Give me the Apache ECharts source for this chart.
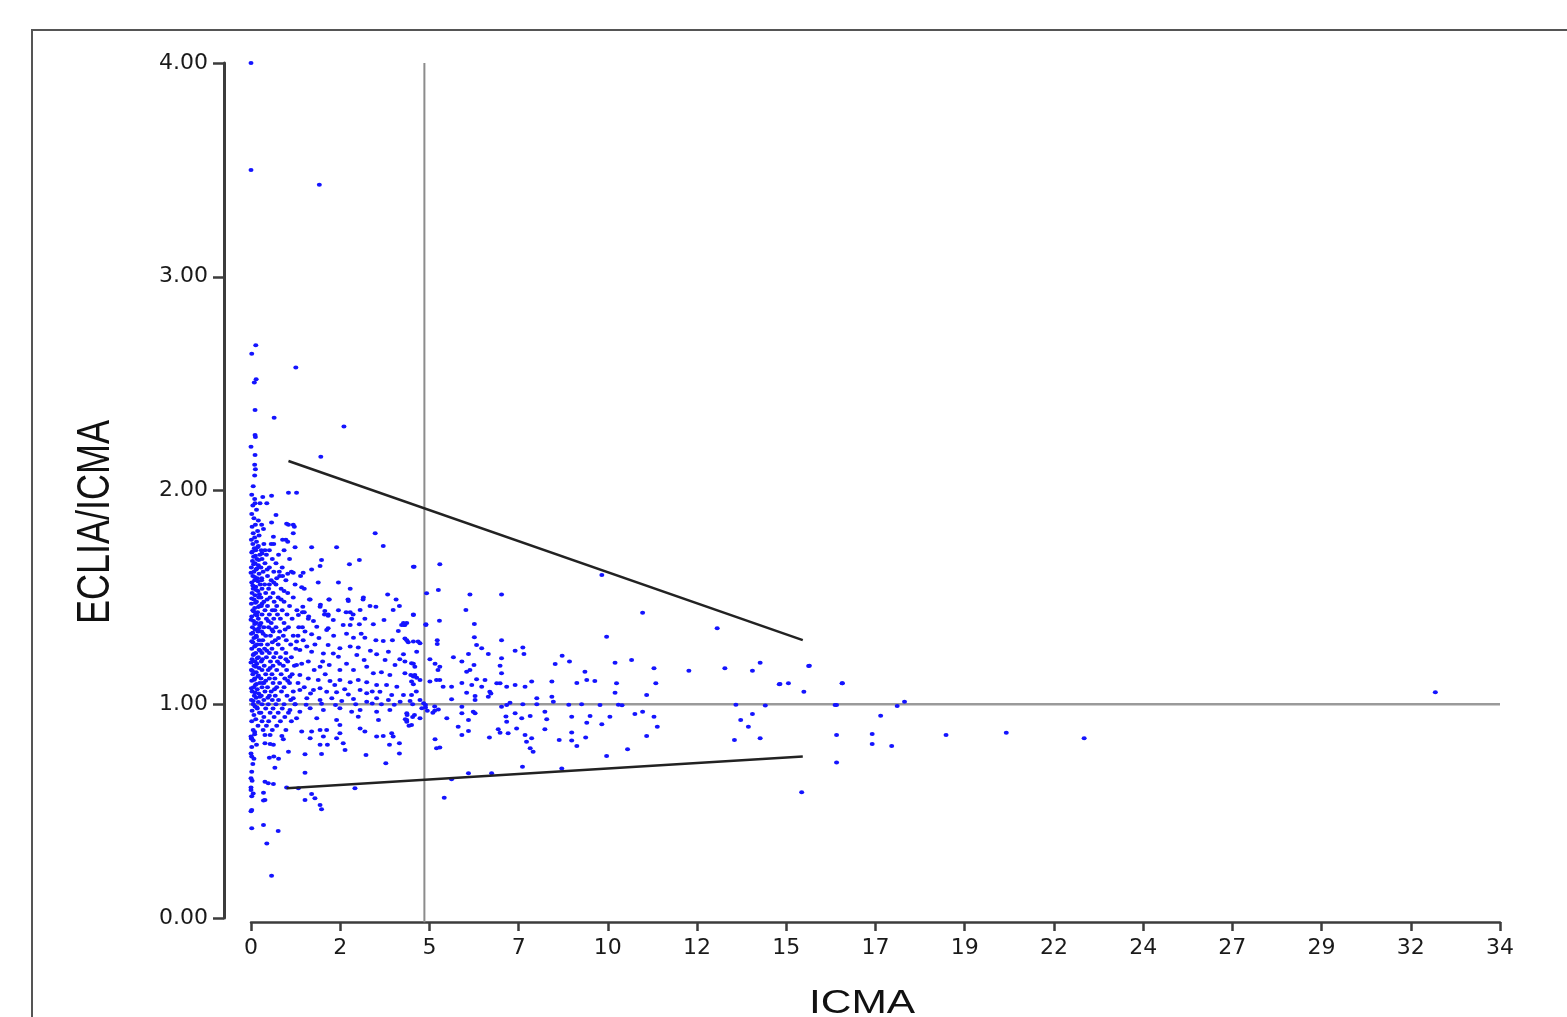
<!DOCTYPE html>
<html>
<head>
<meta charset="utf-8">
<script src="https://cdn.jsdelivr.net/npm/echarts@6/dist/echarts.min.js"></script>
<style>
html,body{margin:0;padding:0;background:#ffffff;}
#chart{width:1567px;height:1017px;}
</style>
</head>
<body>
<div id="chart"></div>
<script>
// ---------- axis ticks ----------
const xTickLabels = ['0','2','5','7','10','12','15','17','19','22','24','27','29','32','34'];
const yTickLabels = ['0.00','1.00','2.00','3.00','4.00'];
const xMin = 0, xMax = 34, xTickSteps = 14;
const yMin = 0, yMax = 4, yStep = 1;

// ---------- reference lines ----------
const meanLine = [[4.72, -0.02], [4.72, 4.0]];
const unityLine = [[-0.73, 1.0], [34, 1.0]];
const upperLimit = [[1.02, 2.138], [15.02, 1.30]];
const lowerLimit = [[0.97, 0.607], [15.02, 0.755]];

// ---------- scatter points [ICMA, ECLIA/ICMA] ----------
const upperPoints = [
[0,4.00],[0,3.50],[1.86,3.43],[0.13,2.68],[0.02,2.64],[1.22,2.575],[0.14,2.52],[0.09,2.505],[0.11,2.377],[0.63,2.34],
[2.53,2.30],[0.11,2.26],[0.12,2.25],[0.0,2.205],[0.11,2.166],[1.90,2.158],[0.10,2.12],[0.12,2.10],[0.10,2.07],[0.06,2.02],
[1.02,1.99],[1.24,1.99],[0.32,1.97],[0.56,1.976],[0.11,1.94],[0.245,1.94],[0.43,1.94],[0.68,1.885],[0.56,1.85],[0.29,1.84],
[0.34,1.82],[1.02,1.84],[1.15,1.84],[0.97,1.845],[1.18,1.83],[1.15,1.80],[3.38,1.80],[0.61,1.784],[0.95,1.77],[1.0,1.76],
[0.86,1.77],[0.55,1.75],[0.38,1.72],[1.2,1.734],[1.65,1.734],[2.33,1.734],[3.6,1.74],[1.92,1.675],[1.88,1.647],[2.95,1.675],
[2.68,1.655],[4.42,1.643],[1.15,1.615],[1.42,1.615],[1.65,1.63],[0.78,1.60],[0.86,1.60],[1.83,1.57],[2.38,1.57],[1.45,1.54],
[2.70,1.54],[1.38,1.547],[0.9,1.53],[3.06,1.50],[3.72,1.514],[2.13,1.49],[2.65,1.483],[3.24,1.46],[4.04,1.46],[1.89,1.465],
[1.59,1.49],[1.4,1.43],[1.45,1.43],[2.70,1.43],[2.78,1.42],[4.42,1.417],[4.15,1.38],[4.24,1.38],[2.0,1.42],[2.1,1.42],
[1.57,1.41],[1.0,1.61],[1.35,1.60]
];

const leftColumnPoints = [
[0.02,1.98],[0.10,1.96],[0.05,1.93],[0.15,1.91],[0.02,1.89],[0.08,1.87],[0.20,1.86],[0.12,1.84],[0.03,1.83],[0.18,1.81],
[0.06,1.80],[0.22,1.79],[0.10,1.78],[0.01,1.77],[0.15,1.76],[0.05,1.75],[0.20,1.74],[0.09,1.73],[0.13,1.72],[0.02,1.71],
[0.24,1.70],[0.07,1.69],[0.16,1.68],[0.04,1.67],[0.11,1.66],[0.20,1.65],[0.01,1.64],[0.14,1.63],[0.08,1.62],[0.22,1.61],
[0.05,1.60],[0.17,1.59],[0.10,1.58],[0.02,1.57],[0.25,1.56],[0.13,1.55],[0.06,1.54],[0.19,1.53],[0.03,1.52],[0.11,1.51],
[0.21,1.50],[0.08,1.49],[0.15,1.48],[0.01,1.47],[0.23,1.46],[0.10,1.45],[0.05,1.44],[0.18,1.43],[0.12,1.42],[0.02,1.41],
[0.20,1.40],[0.07,1.39],[0.15,1.38],[0.24,1.37],[0.04,1.36],[0.11,1.35],[0.19,1.34],[0.01,1.33],[0.14,1.32],[0.08,1.31],
[0.22,1.30],[0.05,1.29],[0.17,1.28],[0.10,1.27],[0.02,1.26],[0.25,1.25],[0.13,1.24],[0.06,1.23],[0.20,1.22],[0.03,1.21],
[0.11,1.20],[0.16,1.19],[0.08,1.18],[0.22,1.17],[0.01,1.16],[0.14,1.15],[0.05,1.14],[0.19,1.13],[0.10,1.12],[0.02,1.11],
[0.24,1.10],[0.12,1.09],[0.07,1.08],[0.17,1.07],[0.03,1.06],[0.21,1.05],[0.09,1.04],[0.14,1.03],[0.01,1.02],[0.20,1.01],
[0.06,1.00],[0.11,0.99],[0.17,0.98],[0.03,0.97],[0.23,0.96],[0.08,0.95],[0.13,0.93],[0.02,0.92],[0.19,0.90],[0.06,0.88],
[0.10,0.86],[0.01,0.84],
[0.18,1.735],[0.04,1.715],[0.12,1.695],[0.21,1.675],[0.07,1.655],[0.16,1.635],[0.00,1.615],[0.10,1.595],[0.19,1.575],[0.05,1.555],
[0.14,1.535],[0.23,1.515],[0.02,1.495],[0.12,1.475],[0.20,1.455],[0.07,1.435],[0.16,1.415],[0.00,1.395],[0.10,1.375],[0.21,1.355],
[0.05,1.335],[0.15,1.315],[0.02,1.295],[0.12,1.275],[0.22,1.255],[0.08,1.235],[0.17,1.215],[0.00,1.195],[0.13,1.175],[0.04,1.155],
[0.20,1.135],[0.09,1.115],[0.15,1.095],[0.01,1.075],[0.11,1.055],[0.24,1.035],[0.06,1.015],[0.16,0.985],
[0.30,1.47],[0.33,1.33],[0.31,1.21],[0.29,1.59],[0.32,1.10],[0.30,1.705]
];

const innerClusterPoints = [
[0.35,1.75],[0.62,1.75],[0.28,1.72],[0.50,1.72],[0.90,1.72],[0.42,1.70],[0.75,1.70],[0.30,1.68],[0.58,1.68],[1.05,1.68],
[0.38,1.66],[0.68,1.66],[0.27,1.64],[0.50,1.64],[0.85,1.64],[0.33,1.62],[0.62,1.62],[1.10,1.62],[0.45,1.60],[0.70,1.59],
[0.29,1.58],[0.55,1.58],[0.95,1.58],[0.37,1.56],[0.68,1.56],[1.20,1.56],[0.30,1.54],[0.48,1.54],[0.82,1.54],[0.40,1.52],
[0.60,1.52],[1.00,1.52],[0.27,1.50],[0.52,1.50],[0.74,1.50],[1.15,1.50],[0.35,1.48],[0.63,1.48],[0.90,1.48],[0.28,1.46],
[0.45,1.46],[0.70,1.46],[1.05,1.46],[0.38,1.44],[0.58,1.44],[0.85,1.44],[1.25,1.44],[0.30,1.42],[0.50,1.42],[0.72,1.42],
[0.98,1.42],[0.42,1.40],[0.62,1.40],[0.80,1.40],[1.12,1.40],[0.27,1.38],[0.55,1.38],[0.90,1.38],[0.35,1.36],[0.48,1.36],
[0.68,1.36],[1.02,1.36],[1.30,1.36],[0.29,1.34],[0.60,1.34],[0.78,1.34],[0.40,1.32],[0.53,1.32],[0.88,1.32],[1.15,1.32],
[0.32,1.30],[0.66,1.30],[0.96,1.30],[0.27,1.28],[0.45,1.28],[0.74,1.28],[1.08,1.28],[0.37,1.26],[0.57,1.26],[0.85,1.26],
[1.22,1.26],[0.30,1.24],[0.50,1.24],[0.68,1.24],[0.95,1.24],[0.42,1.22],[0.62,1.22],[0.80,1.22],[1.10,1.22],[0.28,1.20],
[0.53,1.20],[0.72,1.20],[1.00,1.20],[0.36,1.18],[0.60,1.18],[0.88,1.18],[1.18,1.18],[0.30,1.16],[0.47,1.16],[0.70,1.16],
[0.97,1.16],[0.40,1.14],[0.57,1.14],[0.82,1.14],[1.12,1.14],[0.27,1.12],[0.50,1.12],[0.65,1.12],[0.92,1.12],[0.35,1.10],
[0.60,1.10],[0.78,1.10],[1.05,1.10],[1.28,1.10],[0.30,1.08],[0.45,1.08],[0.70,1.08],[0.90,1.08],[0.38,1.06],[0.55,1.06],
[0.83,1.06],[1.15,1.06],[0.28,1.04],[0.50,1.04],[0.66,1.04],[0.98,1.04],[0.35,1.02],[0.58,1.02],[0.75,1.02],[1.08,1.02],
[0.30,1.00],[0.47,1.00],[0.68,1.00],[0.90,1.00],[1.20,1.00],[0.40,0.98],[0.60,0.98],[0.85,0.98],[0.27,0.96],[0.52,0.96],
[0.74,0.96],[1.02,0.96],[0.35,0.94],[0.63,0.94],[0.92,0.94],[0.30,0.92],[0.48,0.92],[0.80,0.92],[1.10,0.92],[0.42,0.90],
[0.70,0.90],[0.33,0.88],[0.58,0.88],[0.95,0.88],
[0.44,1.49],[0.57,1.35],[0.43,1.25],[0.58,1.29],[0.47,1.39],[0.65,1.44],[0.52,1.17],[0.40,1.11],[0.64,1.07],[0.46,1.03],
[0.78,1.19],[0.75,1.31],[0.82,1.49],[0.50,1.56],[0.44,1.63],[0.77,1.62],[0.62,1.57],[0.93,1.35],[0.95,1.21],[1.00,1.11]
];

const midClusterPoints = [
[1.61,1.49],[2.12,1.49],[2.64,1.49],[3.05,1.49],[3.95,1.49],
[1.41,1.456],[1.88,1.456],[2.01,1.436],[2.59,1.43],[2.97,1.441],[3.40,1.456],[3.87,1.441],[4.42,1.42],
[1.29,1.417],[1.56,1.40],[2.10,1.414],[2.24,1.394],[2.74,1.40],[3.10,1.40],[3.62,1.394],[4.10,1.371],[4.19,1.371],[4.76,1.374],
[1.79,1.363],[2.10,1.355],[2.51,1.371],[2.70,1.371],[2.95,1.374],[3.33,1.374],[4.01,1.343],
[1.47,1.34],[1.65,1.327],[2.06,1.347],[2.79,1.311],[3.10,1.311],[3.40,1.30],[3.60,1.296],[4.19,1.308],[4.28,1.29],[4.60,1.285],
[1.24,1.293],[1.42,1.30],[1.74,1.28],[2.10,1.277],[2.42,1.262],[2.70,1.27],[2.92,1.265],[3.42,1.234],[3.74,1.246],[4.15,1.234],[4.51,1.246],
[1.33,1.254],[1.65,1.246],[1.97,1.238],[2.24,1.238],[2.38,1.222],[2.88,1.23],[3.08,1.207],[3.65,1.207],[3.92,1.184],[4.37,1.192],[4.46,1.176],
[1.24,1.184],[1.56,1.20],[1.88,1.176],[2.13,1.184],[2.42,1.16],[2.79,1.16],[3.15,1.176],[3.33,1.145],[3.78,1.137],[4.19,1.145],[4.35,1.137],[4.51,1.124],
[1.06,1.129],[1.33,1.137],[1.56,1.121],[1.83,1.113],[2.15,1.109],[2.42,1.113],[2.70,1.103],[2.92,1.113],[3.15,1.103],[3.42,1.09],[3.69,1.09],[3.97,1.082],[4.42,1.093],
[1.33,1.067],[1.70,1.067],[1.88,1.075],[2.06,1.059],[2.33,1.056],[2.65,1.046],[2.97,1.067],[3.15,1.051],[3.51,1.059],[3.83,1.043],[4.15,1.043],[4.37,1.043],
[1.15,1.028],[1.52,1.028],[1.88,1.02],[2.20,1.028],[2.47,1.015],[2.79,1.025],[3.15,1.012],[3.42,1.028],[3.74,1.02],[4.06,1.012],[4.33,1.015],[4.60,1.02],
[1.2,1.0],[1.5,0.998],[1.92,1.002],[2.3,0.997],[2.85,1.0],[3.3,1.003],[3.9,0.998],[4.4,1.0],[4.75,0.996],
[1.06,0.973],[1.33,0.965],[1.61,0.981],[1.97,0.973],[2.42,0.981],[2.74,0.965],[2.97,0.973],[3.42,0.965],[3.78,0.973],[4.24,0.958],[4.65,0.981],
[1.24,0.934],[1.79,0.934],[2.33,0.926],[2.92,0.942],[3.47,0.926],[4.24,0.926],[4.60,0.934],
[1.38,1.19],[1.72,1.16],[2.02,1.14],[2.28,1.09],[1.45,1.08],[1.62,1.05],[2.55,1.07],[1.28,1.32],[1.52,1.27],[1.85,1.31],
[2.25,1.32],[1.95,1.2],[2.6,1.19],[1.4,1.36],[1.7,1.39],[2.38,1.44],[3.0,1.33],[3.25,1.25],[3.55,1.15],[3.3,1.06],
[2.6,1.33],[3.85,1.3],[4.05,1.21],[3.55,1.0],[4.5,1.06]
];

const lowTailPoints = [
[0.02,0.84],[0.06,0.83],[0.02,0.80],[0.0,0.77],[0.02,0.755],[0.02,0.684],[0.0,0.654],[0.03,0.642],[0.0,0.599],[0.06,0.583],
[0.02,0.505],[0.02,0.42],[0.38,0.856],[0.52,0.856],[0.38,0.817],[0.52,0.814],[0.61,0.81],[0.84,0.851],[0.88,0.836],[1.02,0.778],
[1.47,0.766],[1.92,0.767],[1.38,0.872],[1.65,0.872],[1.61,0.841],[1.88,0.88],[2.06,0.88],[1.97,0.849],[1.88,0.81],[2.08,0.81],
[2.33,0.841],[2.51,0.817],[2.56,0.786],[2.42,0.903],[2.42,0.864],[2.97,0.887],[3.10,0.872],[3.42,0.849],[3.60,0.851],[3.83,0.864],
[3.87,0.849],[3.13,0.763],[3.77,0.81],[4.04,0.817],[4.04,0.77],[3.67,0.724],[4.24,0.918],[4.37,0.903],[0.65,0.703],[1.47,0.68],
[0.38,0.638],[0.47,0.63],[0.61,0.627],[0.34,0.586],[0.38,0.552],[0.97,0.611],[1.29,0.607],[1.47,0.552],[1.65,0.58],[1.74,0.56],
[1.88,0.529],[1.92,0.509],[2.83,0.607],[0.34,0.435],[0.74,0.407],[0.43,0.349],[0.56,0.198],[0.0,0.849],[0.05,0.72],[0.10,0.87],
[0.15,0.81],[0.08,0.745],[0.5,0.75],[0.62,0.755],[0.75,0.745],[0.0,0.61],[0.02,0.57],[0.34,0.55],[0.0,0.5]
];

const rightClusterPoints = [
[4.44,1.643],[5.14,1.655],[9.55,1.605],[4.78,1.519],[5.10,1.534],[5.96,1.514],[6.82,1.514],[5.85,1.441],[10.66,1.428],[4.16,1.371],
[4.76,1.371],[5.13,1.391],[6.08,1.375],[12.69,1.355],[9.68,1.316],[4.24,1.30],[4.42,1.293],[4.55,1.293],[5.07,1.30],[5.07,1.282],
[6.08,1.313],[6.82,1.30],[6.14,1.277],[6.28,1.262],[6.46,1.235],[7.19,1.25],[7.40,1.266],[7.43,1.235],[5.92,1.235],[5.51,1.22],
[5.74,1.20],[6.82,1.215],[8.47,1.227],[8.67,1.20],[8.28,1.188],[10.36,1.207],[9.91,1.194],[4.19,1.20],[4.42,1.19],[4.87,1.21],
[5.01,1.19],[5.14,1.176],[5.09,1.16],[6.07,1.184],[5.96,1.16],[5.87,1.152],[6.78,1.18],[6.82,1.145],[10.97,1.168],[11.92,1.157],
[12.90,1.168],[13.65,1.157],[13.86,1.194],[15.2,1.18],[9.09,1.152],[9.14,1.113],[9.36,1.109],[8.87,1.10],[4.42,1.13],[4.46,1.137],
[4.37,1.106],[4.6,1.113],[4.87,1.106],[5.05,1.113],[5.14,1.113],[5.23,1.082],[5.46,1.082],[5.74,1.10],[6.14,1.117],[6.37,1.113],
[6.01,1.09],[6.28,1.082],[6.5,1.059],[6.46,1.035],[6.69,1.098],[6.78,1.098],[6.96,1.082],[7.19,1.09],[7.46,1.082],[7.64,1.106],
[8.19,1.106],[9.95,1.098],[9.91,1.054],[10.77,1.043],[11.02,1.098],[14.38,1.093],[14.63,1.098],[15.05,1.059],[16.1,1.098],[5.46,1.023],
[5.87,1.054],[6.10,1.039],[6.10,1.02],[7.78,1.028],[8.19,1.035],[8.23,1.012],[6.53,1.05],[7.05,1.007],[6.96,0.996],[6.82,0.988],
[7.40,1.0],[7.78,1.0],[8.65,0.998],[9.0,1.0],[9.5,0.997],[10.0,0.998],[10.1,0.995],[13.2,0.998],[14.0,0.994],[15.9,0.996],
[4.75,0.985],[4.7,1.005],[4.8,0.97],[4.95,0.96],[5.0,0.99],[5.1,0.975],[4.2,0.93],[4.3,0.9],[4.4,0.94],[4.45,0.95],
[4.25,0.95],[5.0,0.97],[5.33,0.934],[5.74,0.988],[5.74,0.958],[6.05,0.965],[6.10,0.958],[5.92,0.926],[5.64,0.895],[5.92,0.875],
[5.74,0.856],[6.94,0.943],[6.96,0.918],[7.19,0.958],[7.37,0.934],[6.73,0.883],[6.78,0.867],[7.0,0.864],[7.23,0.887],[7.6,0.945],
[8.0,0.965],[8.05,0.93],[8.0,0.883],[8.73,0.941],[9.14,0.914],[9.23,0.945],[9.55,0.907],[9.77,0.941],[10.45,0.954],[10.66,0.965],
[10.97,0.941],[11.06,0.895],[13.33,0.926],[13.65,0.954],[13.54,0.895],[7.46,0.856],[7.64,0.841],[7.5,0.825],[7.6,0.794],[7.68,0.778],
[6.49,0.845],[5.01,0.836],[5.05,0.794],[5.14,0.798],[8.39,0.833],[8.73,0.868],[8.73,0.83],[8.87,0.805],[9.11,0.845],[10.77,0.851],
[13.16,0.833],[13.86,0.841],[15.94,0.856],[9.68,0.758],[10.25,0.789],[15.94,0.728],[7.39,0.708],[8.46,0.70],[5.92,0.677],[6.55,0.677],
[5.46,0.649],[5.26,0.563],[14.99,0.588]
];

const farPoints = [
[15.18,1.179],[14.4,1.095],[16.09,1.098],[15.94,0.997],[17.59,0.992],[17.79,1.012],[17.14,0.946],[16.91,0.861],[16.91,0.814],[17.44,0.805],
[18.92,0.856],[20.56,0.867],[22.68,0.841],[32.24,1.056]
];

const allPoints = [].concat(upperPoints, leftColumnPoints, innerClusterPoints, midClusterPoints, lowTailPoints, rightClusterPoints, farPoints);

const chart = echarts.init(document.getElementById('chart'), null, {renderer: 'canvas'});
const refLine = (data, color, width, z) => ({
  type: 'line', data: data, showSymbol: false, symbol: 'none', clip: false, z: z,
  lineStyle: {color: color, width: width}, silent: true, animation: false
});

chart.setOption({
  animation: false,
  backgroundColor: '#ffffff',
  grid: {left: 251, right: 67, top: 63, bottom: 99, containLabel: false},
  xAxis: {
    type: 'value', min: xMin, max: xMax, interval: (xMax - xMin) / xTickSteps, offset: 4,
    axisLine: {show: true, onZero: false, lineStyle: {color: '#3c3c3c', width: 2.5}},
    axisTick: {show: true, length: 9, lineStyle: {color: '#3c3c3c', width: 2.5}},
    axisLabel: {margin: 15, fontSize: 22, fontFamily: 'DejaVu Sans', color: '#1a1a1a',
      formatter: (v, i) => xTickLabels[i] !== undefined ? xTickLabels[i] : ''},
    splitLine: {show: false}
  },
  yAxis: {
    type: 'value', min: yMin, max: yMax, interval: yStep, offset: 27,
    axisLine: {show: true, onZero: false, lineStyle: {color: '#3c3c3c', width: 3}},
    axisTick: {show: true, length: 11, lineStyle: {color: '#3c3c3c', width: 2.5}},
    axisLabel: {margin: 16, fontSize: 22, fontFamily: 'DejaVu Sans', color: '#1a1a1a',
      formatter: (v, i) => yTickLabels[i] !== undefined ? yTickLabels[i] : ''},
    splitLine: {show: false}
  },
  graphic: [
    {type: 'rect', silent: true, shape: {x: 32, y: 30, width: 1700, height: 1200},
     style: {fill: 'none', stroke: '#555', lineWidth: 2}},
    {type: 'text', silent: true, x: 96, y: 522, rotation: Math.PI / 2, scaleY: 1.3,
     style: {text: 'ECLIA/ICMA', fontSize: 36, fontFamily: 'Liberation Sans', fill: '#111',
             align: 'center', verticalAlign: 'middle'}},
    {type: 'text', silent: true, x: 862, y: 987, scaleX: 1.25,
     style: {text: 'ICMA', fontSize: 34, fontFamily: 'Liberation Sans', fill: '#111',
             align: 'center', verticalAlign: 'top'}}
  ],
  series: [
    refLine(meanLine, '#8c8c8c', 2, 1),
    refLine(unityLine, '#9a9a9a', 2.5, 1),
    {
      type: 'scatter', data: allPoints, z: 2, silent: true,
      symbol: 'circle', symbolSize: [5, 4],
      itemStyle: {color: '#1414ff', opacity: 1}
    },
    refLine(upperLimit, '#222', 2.5, 3),
    refLine(lowerLimit, '#222', 2.5, 3)
  ]
});
</script>
</body>
</html>
